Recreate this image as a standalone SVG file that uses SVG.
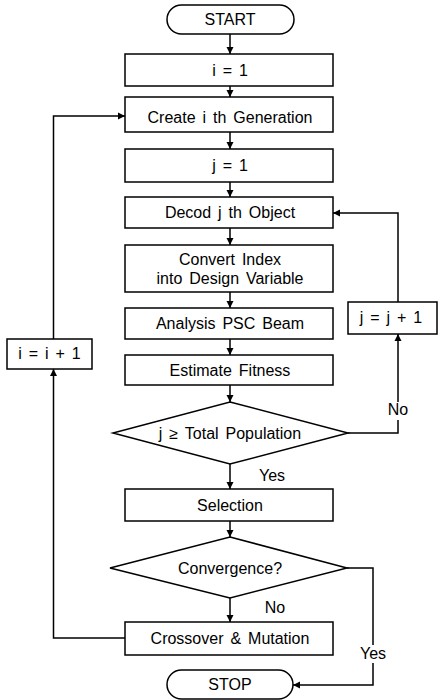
<svg xmlns="http://www.w3.org/2000/svg" width="443" height="700" viewBox="0 0 443 700">
<style>
.n{fill:#fff;stroke:#000;stroke-width:1.5}
.c{fill:none;stroke:#000;stroke-width:1.5}
.bg{fill:#fff}
text{font-family:"Liberation Sans",Arial,sans-serif;font-size:16px;word-spacing:2.5px;fill:#000;text-anchor:middle}
</style>
<defs>
<marker id="a" markerWidth="8" markerHeight="8" refX="7" refY="4" orient="auto" markerUnits="userSpaceOnUse">
<path d="M0,0.5 L7,4 L0,7.5 Z" fill="#000"/>
</marker>
</defs>
<rect width="443" height="700" fill="#fff"/>
<g id="connectors">
<path class="c" d="M230,34 V54" marker-end="url(#a)"/>
<path class="c" d="M230,86 V97" marker-end="url(#a)"/>
<path class="c" d="M230,132 V149" marker-end="url(#a)"/>
<path class="c" d="M230,182 V197" marker-end="url(#a)"/>
<path class="c" d="M230,228 V245" marker-end="url(#a)"/>
<path class="c" d="M230,292 V308" marker-end="url(#a)"/>
<path class="c" d="M230,339 V355" marker-end="url(#a)"/>
<path class="c" d="M230,385 V402" marker-end="url(#a)"/>
<path class="c" d="M230,464 V489" marker-end="url(#a)"/>
<path class="c" d="M230,521 V537" marker-end="url(#a)"/>
<path class="c" d="M230,598 V622" marker-end="url(#a)"/>
<path class="c" d="M348,433 H398 V334" marker-end="url(#a)"/>
<path class="c" d="M398,302 V213 H333" marker-end="url(#a)"/>
<path class="c" d="M125,638 H53.5 V369" marker-end="url(#a)"/>
<path class="c" d="M53.5,339 V116 H125" marker-end="url(#a)"/>
<path class="c" d="M347,568 H373 V685 H293" marker-end="url(#a)"/>
<rect class="bg" x="386" y="402" width="24" height="18"/>
<text x="398" y="415">No</text>
<text x="272" y="481">Yes</text>
<text x="275" y="613">No</text>
<rect class="bg" x="358" y="645" width="30" height="18"/>
<text x="373" y="659">Yes</text>
</g>
<g id="start"><rect class="n" x="167" y="5" width="127" height="29" rx="14.5"/><text x="230" y="25">START</text></g>
<g id="i1"><rect class="n" x="125" y="54" width="208" height="32"/><text x="230" y="76">i = 1</text></g>
<g id="create"><rect class="n" x="125" y="97" width="208" height="35"/><text x="230" y="123">Create i th Generation</text></g>
<g id="j1"><rect class="n" x="125" y="149" width="208" height="33"/><text x="230" y="171">j = 1</text></g>
<g id="decod"><rect class="n" x="125" y="197" width="208" height="31"/><text x="230" y="218">Decod j th Object</text></g>
<g id="convert"><rect class="n" x="125" y="245" width="208" height="47"/><text x="230" y="265">Convert Index</text><text x="230" y="284">into Design Variable</text></g>
<g id="analysis"><rect class="n" x="125" y="308" width="208" height="31"/><text x="230" y="329">Analysis PSC Beam</text></g>
<g id="estimate"><rect class="n" x="125" y="355" width="208" height="30"/><text x="230" y="376">Estimate Fitness</text></g>
<g id="check"><polygon class="n" points="230,402 348,433 230,464 113,433"/><text x="230" y="439">j ≥ Total Population</text></g>
<g id="selection"><rect class="n" x="125" y="489" width="208" height="32"/><text x="230" y="511">Selection</text></g>
<g id="conv"><polygon class="n" points="230,537 347,568 230,598 110,568"/><text x="230" y="574">Convergence?</text></g>
<g id="cross"><rect class="n" x="125" y="622" width="208" height="33"/><text x="230" y="644">Crossover &amp; Mutation</text></g>
<g id="stop"><rect class="n" x="167" y="670" width="126" height="29" rx="14.5"/><text x="230" y="690">STOP</text></g>
<g id="iinc"><rect class="n" x="7" y="339" width="85" height="30"/><text x="49.5" y="359">i = i + 1</text></g>
<g id="jinc"><rect class="n" x="348" y="302" width="89" height="32"/><text x="391" y="323">j = j + 1</text></g>
</svg>
